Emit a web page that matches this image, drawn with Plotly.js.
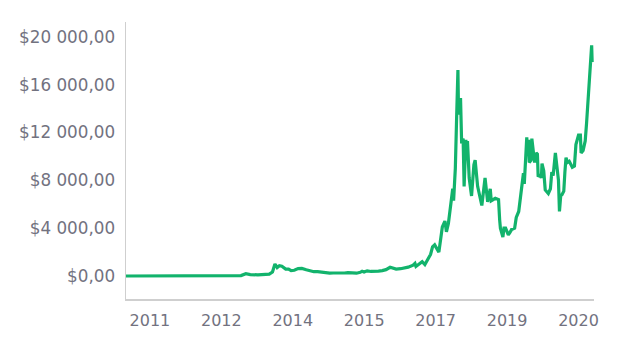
<!DOCTYPE html>
<html>
<head>
<meta charset="utf-8">
<script src="https://cdn.plot.ly/plotly-3.0.1.min.js"></script>
<style>html,body{margin:0;padding:0;background:#fff;}#chart{width:620px;height:339px;}</style>
</head>
<body>
<div id="chart"></div>
<script>
var dates = [
 "2010-08-15","2010-10-15","2010-12-15","2011-02-15","2011-04-15","2011-06-08","2011-07-15","2011-09-15","2011-11-15",
 "2012-01-15","2012-04-15","2012-07-15","2012-10-15","2013-01-15","2013-03-01","2013-04-09","2013-05-15","2013-07-15",
 "2013-09-15","2013-10-15","2013-11-10","2013-11-30","2013-12-10","2013-12-18","2014-01-05","2014-01-25","2014-02-25",
 "2014-03-20","2014-04-10","2014-05-05","2014-06-05","2014-07-05","2014-08-10","2014-09-10","2014-10-10","2014-11-10",
 "2014-12-10","2015-01-14","2015-02-15","2015-03-15","2015-04-15","2015-05-15","2015-06-15","2015-07-12","2015-08-20",
 "2015-09-20","2015-10-20","2015-11-04","2015-11-20","2015-12-15","2016-01-15","2016-02-15","2016-03-15","2016-04-15",
 "2016-05-15","2016-06-17","2016-07-10","2016-08-05","2016-09-10","2016-10-10","2016-11-10","2016-12-20","2017-01-04",
 "2017-01-12","2017-02-10","2017-03-03","2017-03-25","2017-04-15","2017-05-10","2017-05-26","2017-06-12","2017-07-16",
 "2017-08-13","2017-09-03","2017-09-15","2017-10-01","2017-10-20","2017-11-05","2017-11-12","2017-11-26","2017-12-07",
 "2017-12-17","2017-12-22","2017-12-28","2018-01-07","2018-01-16","2018-01-28","2018-02-05","2018-02-19","2018-02-26",
 "2018-03-04","2018-03-18","2018-04-06","2018-04-25","2018-05-05","2018-05-25","2018-06-28","2018-07-24","2018-08-14",
 "2018-09-04","2018-09-12","2018-10-15","2018-11-10","2018-11-19","2018-11-25","2018-12-15","2018-12-24","2019-01-06",
 "2019-01-28","2019-02-08","2019-02-24","2019-03-20","2019-04-02","2019-04-22","2019-05-12","2019-05-30","2019-06-06",
 "2019-06-16","2019-06-26","2019-07-02","2019-07-10","2019-07-16","2019-07-30","2019-08-06","2019-08-28","2019-09-10",
 "2019-09-20","2019-09-26","2019-10-10","2019-10-22","2019-10-27","2019-11-10","2019-11-22","2019-12-17","2020-01-03",
 "2020-01-14","2020-01-25","2020-02-12","2020-02-25","2020-03-08","2020-03-16","2020-03-26","2020-04-05","2020-04-20",
 "2020-04-29","2020-05-08","2020-05-20","2020-06-03","2020-06-28","2020-07-15","2020-07-27","2020-08-17","2020-09-01",
 "2020-09-07","2020-09-23","2020-10-10","2020-10-21","2020-11-05","2020-11-17","2020-11-24","2020-12-01","2020-12-05"
];
var prices = [
 0.07,0.1,0.25,1,1.5,28,14,5,2.5,
 6.5,5,8,12,14,35,190,120,95,
 130,150,330,1000,850,700,860,820,580,
 580,450,480,620,630,520,440,360,370,
 330,220,240,250,230,235,250,285,230,
 235,310,400,330,430,380,430,415,450,
 530,730,660,580,610,650,740,900,1050,
 800,1000,1200,950,1300,1800,2430,2600,2000,
 4100,4600,3700,4400,5900,7300,6300,9000,13500,
 17240,13500,14200,14900,11100,11500,7500,11400,9700,
 11300,8200,6700,9300,9700,7500,5900,8200,6200,
 7300,6300,6500,6400,4700,4000,3250,4000,4000,
 3450,3600,3900,4000,4900,5400,7200,8600,7700,
 9300,11600,10300,11400,9500,9700,11500,9500,10300,
 10200,8300,8500,8200,9400,8800,7200,6900,7300,
 8700,8400,10300,9300,8000,5400,6700,6800,7100,
 8700,9900,9500,9600,9100,9200,11000,11800,11800,
 10300,10500,11300,12800,15500,16800,18000,19300,17900
];
var yTickVals = [0,4000,8000,12000,16000,20000];
var yTickText = yTickVals.map(function (v) {
  var s = String(v).replace(/\B(?=(\d{3})+(?!\d))/g, " ");
  return "$" + s + ",00";
});

var trace = {
  x: dates, y: prices, type: "scatter", mode: "lines",
  line: {color: "#12b36c", width: 3.2}, hoverinfo: "skip"
};
var xfont = {family: "DejaVu Sans, sans-serif", size: 16, color: "#72727f"};
var yfont = {family: "DejaVu Sans, sans-serif", size: 16.8, color: "#72727f"};
var layout = {
  width: 620, height: 339,
  margin: {l: 126, r: 26, t: 22, b: 40},
  paper_bgcolor: "#fff", plot_bgcolor: "#fff",
  showlegend: false,
  font: xfont,
  xaxis: {
    type: "date", range: ["2010-08-15", "2020-12-20"],
    tick0: "2011-02-24", dtick: 577 * 86400000, tickformat: "%Y",
    showgrid: false, zeroline: false, showline: true, linecolor: "#cfcfcf", linewidth: 1.5,
    ticks: "", ticklabelstandoff: 6, tickfont: xfont
  },
  yaxis: {
    range: [-1925, 21255], tickmode: "array", tickvals: yTickVals, ticktext: yTickText,
    showgrid: false, zeroline: false, showline: true, linecolor: "#cfcfcf", linewidth: 1.5,
    ticks: "", ticklabelstandoff: 6, tickfont: yfont
  }
};
Plotly.newPlot("chart", [trace], layout, {displayModeBar: false, staticPlot: true});
</script>
</body>
</html>
